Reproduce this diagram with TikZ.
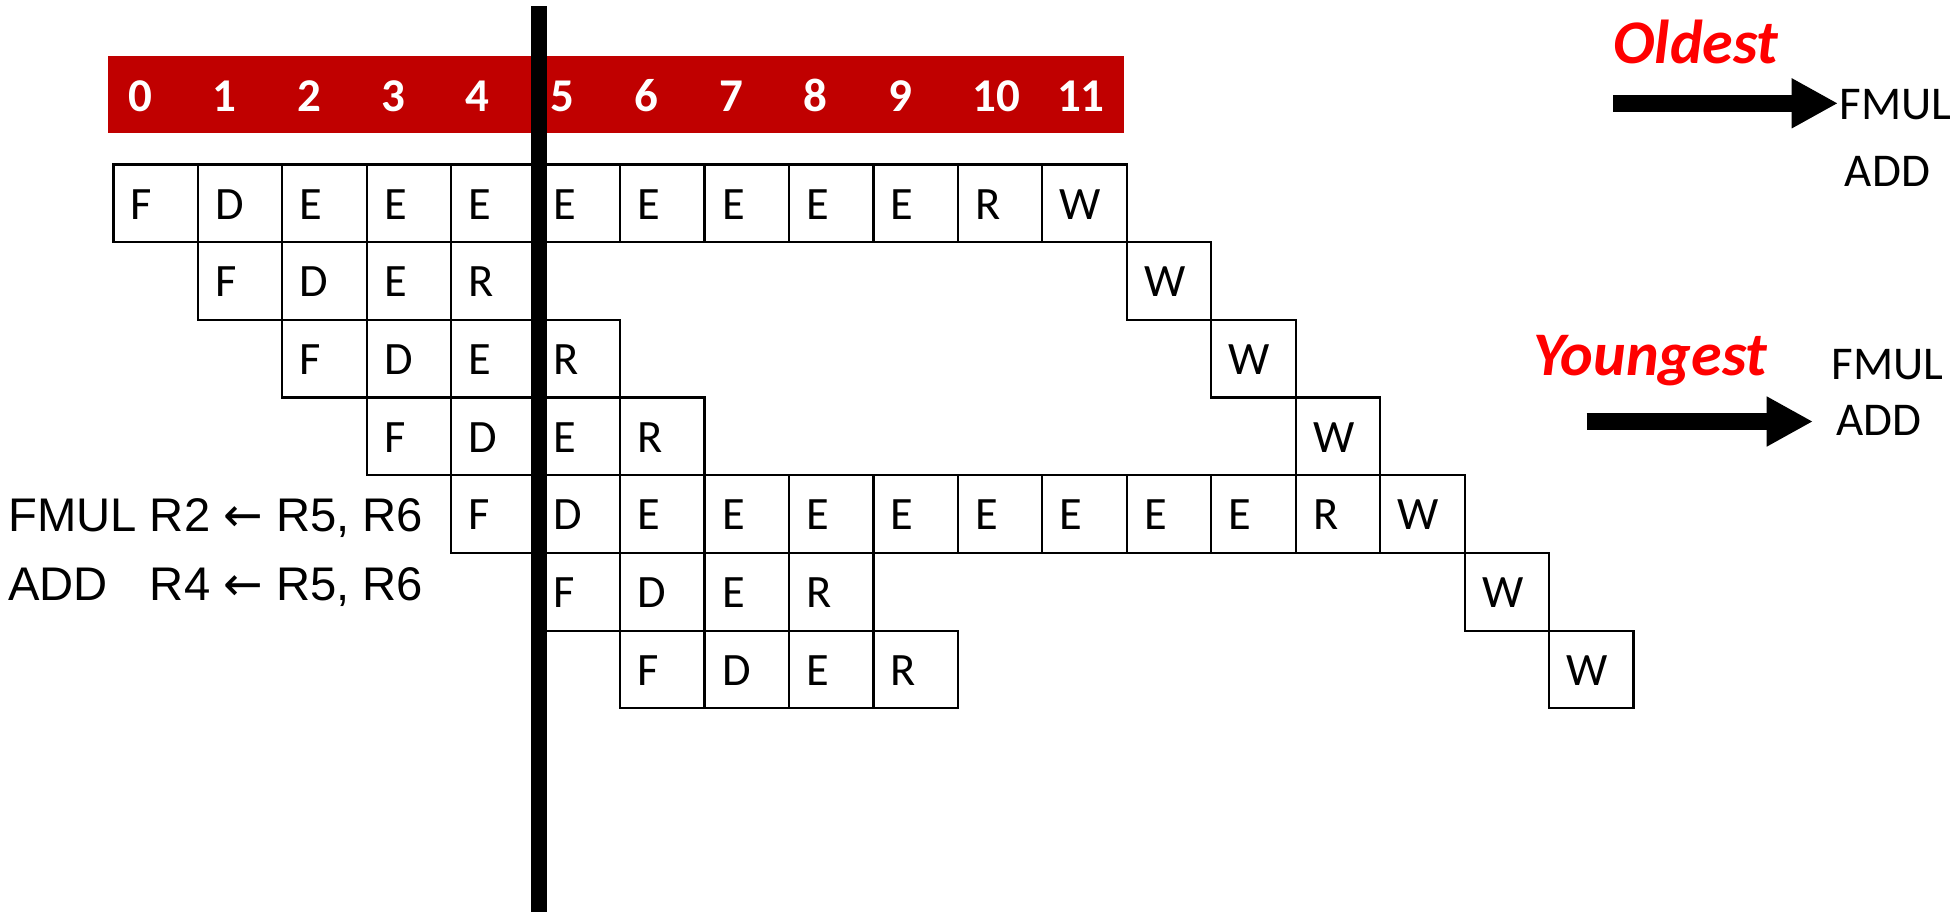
\documentclass[tikz,border=0pt]{standalone}
\usepackage{fontspec}
\setmainfont{Carlito}
\newfontfamily\arialfont{Liberation Sans}
\newfontfamily\arrowfont{DejaVu Sans}
\usetikzlibrary{arrows.meta}
\definecolor{barred}{HTML}{C00000}
\definecolor{labred}{HTML}{FF0000}
\newcommand{\larr}{{\arrowfont ←}}
\begin{document}
\begin{tikzpicture}[x=0.5pt,y=-0.5pt,
  cell/.style={draw, line width=1.1pt, anchor=north west,
    minimum width=42.225pt, minimum height=38.85pt,
    inner xsep=8.75pt, inner ysep=0pt, text width=24.725pt, align=left,
    text height=15.8pt, text depth=0pt,
    font=\fontsize{23.2pt}{24pt}\selectfont},
  digit/.style={anchor=base west, inner sep=0pt, text=white,
    font=\bfseries\fontsize{23.5pt}{24pt}\selectfont},
  agelabel/.style={anchor=base west, inner sep=0pt, text=labred,
    font=\bfseries\itshape\fontsize{31pt}{32pt}\selectfont},
  rtext/.style={anchor=base west, inner sep=0pt,
    font=\fontsize{23.5pt}{24pt}\selectfont},
  instr/.style={anchor=base west, inner sep=0pt,
    font=\arialfont\fontsize{23.6pt}{26pt}\selectfont},
  blockarrow/.style={line width=8.35pt, -{Triangle[length=23.15pt,width=23.35pt]}}]
\fill[white] (0,0) rectangle (1959,912);
\useasboundingbox (0,0) rectangle (1959,912);
% cycle bar
\fill[barred] (108,56) rectangle (1124,133.3);
\foreach \n in {0,...,11}
  \node[digit] (d\n) at ({112.3+84.45*\n+15.4},111.7) {\n};
% pipeline cells
\foreach \rr/\ss/\LL in {0/0/{F,D,E,E,E,E,E,E,E,E,R,W},1/1/{F,D,E,R},2/2/{F,D,E,R},3/3/{F,D,E,R},4/4/{F,D,E,E,E,E,E,E,E,E,R,W},5/5/{F,D,E,R},6/6/{F,D,E,R}}{
  \foreach \lt [count=\ii from 0] in \LL {
    \pgfmathtruncatemacro\ccol{\ss+\ii}
    \node[cell] (c-\rr-\ccol) at ({112.3+84.45*\ccol},{163.3+77.7*\rr}) {\lt};
  }
}
\foreach \rr/\ccol in {1/12,2/13,3/14,5/16,6/17}
  \node[cell] (c-\rr-\ccol) at ({112.3+84.45*\ccol},{163.3+77.7*\rr}) {W};
% instructions
\node[instr] (ins1) at (8,531) {FMUL R2 \larr{} R5, R6};
\node[instr] (ins2) at (8,600) {\rlap{ADD}\hphantom{FMUL} R4 \larr{} R5, R6};
% right side
\node[agelabel] (oldest) at (1613,63.3) {Oldest};
\node[agelabel] (youngest) at (1533,375) {Youngest};
\node[rtext] (fmul1) at (1839.5,119.3) {FMUL};
\node[rtext] (add1) at (1844.5,186.7) {ADD};
\node[rtext] (fmul2) at (1831.5,379.3) {FMUL};
\node[rtext] (add2) at (1836,435) {ADD};
\coordinate (a1s) at (1613,103.3);
\coordinate (a1e) at (1838,103.3);
\coordinate (a2s) at (1586.7,421.5);
\coordinate (a2e) at (1813,421.5);
\draw[blockarrow] (a1s) -- (a1e);
\draw[blockarrow] (a2s) -- (a2e);
% current-cycle marker
\draw[line width=8.3pt] (539,6) -- (539,912);
\end{tikzpicture}
\end{document}
